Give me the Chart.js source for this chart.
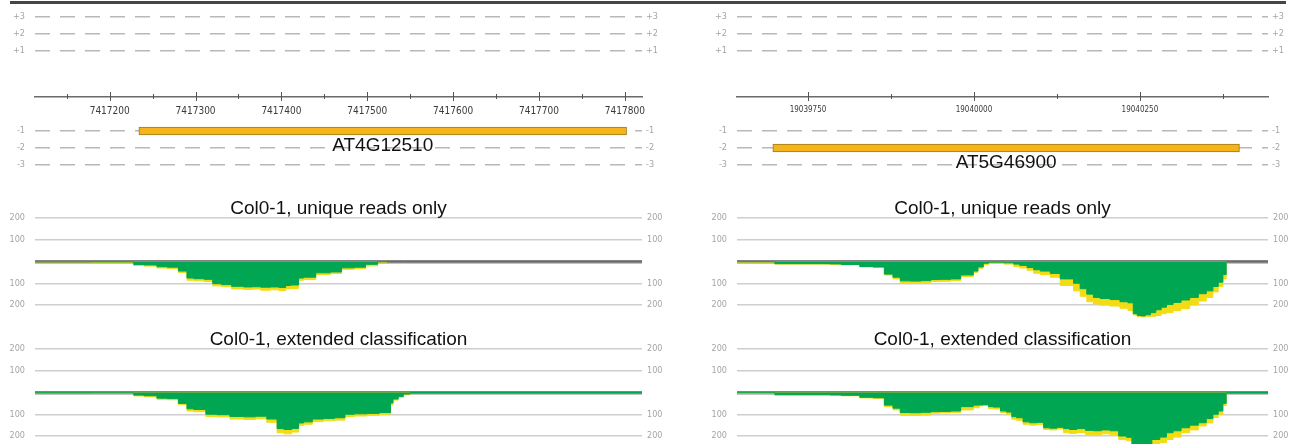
<!DOCTYPE html>
<html>
<head>
<meta charset="utf-8">
<title>Col0-1 coverage, AT4G12510 / AT5G46900</title>
<script src="https://cdn.jsdelivr.net/npm/chart.js@4.4.1/dist/chart.umd.min.js"></script>
<style>
  body { margin: 0; background: #fff; width: 1295px; height: 444px; position: relative; overflow: hidden; }
  canvas { position: absolute; }
  #topRule { position: absolute; left: 10px; top: 1px; width: 1276px; height: 3px; background: #4b4444; }
</style>
</head>
<body>
<div id="topRule"></div>
<canvas id="geneL" width="670" height="190" style="left:0;top:0"></canvas>
<canvas id="covL1" width="670" height="131" style="left:0;top:199px"></canvas>
<canvas id="covL2" width="670" height="114" style="left:0;top:330px"></canvas>
<canvas id="geneR" width="625" height="190" style="left:670px;top:0"></canvas>
<canvas id="covR1" width="625" height="131" style="left:670px;top:199px"></canvas>
<canvas id="covR2" width="625" height="114" style="left:670px;top:330px"></canvas>
<script>
// ********** DATA ***********
const strands = [3, 2, 1, -1, -2, -3];
const strandLabels = ['+3', '+2', '+1', '-1', '-2', '-3'];

const leftRange = [7417113, 7417820];
const rightRange = [19039643, 19040443];
const leftSteps = [100, 50];    // labelled tick, small tick
const rightSteps = [250, 125];

const geneNames = ['AT4G12510', 'AT5G46900'];
const geneStart = [7417234, 19039697];
const geneEnd = [7417802, 19040400];
const geneStrand = [-1, -2];

const panelTitles = ['Col0-1, unique reads only', 'Col0-1, extended classification'];
const covTicks = [200, 100, 0, -100, -200];

// AT4G12510, unique reads only (green = unique, yellow = all)
const posL1 = [7417113, 7417180, 7417228, 7417240, 7417255, 7417267, 7417280, 7417290, 7417298, 7417310,
  7417320, 7417330, 7417342, 7417356, 7417366, 7417376, 7417387, 7417397, 7417405, 7417411,
  7417420, 7417426, 7417440, 7417457, 7417470, 7417485, 7417498, 7417512, 7417523, 7417543, 7417820];
const yellowL1 = [1, 2, 5, 18, 21, 30, 33, 50, 86, 89, 92, 112, 116, 126, 129, 127, 132, 130, 134, 126,
  124, 86, 83, 60, 55, 36, 33, 20, 3, 0, 0];
const greenL1 = [1, 1, 2, 14, 16, 24, 26, 44, 76, 79, 82, 102, 106, 114, 117, 116, 118, 117, 119, 110,
  108, 76, 72, 52, 48, 29, 26, 13, 1, 0, 0];

// AT4G12510, extended classification
const posL2 = [7417113, 7417180, 7417228, 7417240, 7417255, 7417267, 7417280, 7417290, 7417298, 7417312,
  7417325, 7417340, 7417356, 7417370, 7417383, 7417395, 7417403, 7417412, 7417420, 7417426,
  7417436, 7417449, 7417462, 7417474, 7417485, 7417500, 7417514, 7417527, 7417530, 7417536,
  7417542, 7417550, 7417558, 7417820];
const yellowL2 = [1, 2, 4, 16, 20, 31, 33, 56, 85, 88, 110, 112, 122, 124, 121, 137, 185, 190, 182, 151,
  146, 134, 130, 127, 110, 108, 105, 100, 55, 35, 22, 10, 0, 0];
const greenL2 = [1, 1, 2, 12, 15, 26, 28, 50, 75, 78, 100, 102, 110, 112, 109, 122, 166, 170, 165, 140,
  135, 122, 119, 116, 100, 98, 96, 92, 48, 30, 18, 7, 0, 0];

// AT5G46900, unique reads only
const posR1 = [19039643, 19039700, 19039783, 19039800, 19039828, 19039848, 19039865, 19039878, 19039889, 19039904,
  19039920, 19039935, 19039949, 19039965, 19039980, 19039999, 19040006, 19040014, 19040022, 19040029,
  19040045, 19040060, 19040069, 19040080, 19040090, 19040100, 19040115, 19040130, 19040150, 19040160,
  19040170, 19040180, 19040190, 19040205, 19040220, 19040232, 19040240, 19040246, 19040252, 19040258,
  19040266, 19040274, 19040282, 19040290, 19040300, 19040312, 19040325, 19040338, 19040350, 19040360,
  19040368, 19040375, 19040380, 19040386, 19040443];
const yellowR1 = [2, 3, 12, 13, 15, 25, 27, 62, 80, 100, 101, 99, 92, 91, 88, 70, 50, 31, 15, 8,
  8, 12, 23, 30, 40, 54, 60, 72, 110, 135, 160, 185, 195, 200, 205, 215, 225, 246, 254, 255,
  254, 252, 248, 240, 234, 225, 216, 200, 182, 165, 140, 115, 80, 0, 0];
const greenR1 = [1, 1, 10, 11, 14, 23, 25, 58, 72, 89, 90, 88, 83, 82, 80, 62, 44, 25, 8, 3,
  3, 6, 12, 18, 28, 38, 44, 55, 80, 100, 125, 150, 165, 170, 175, 185, 190, 240, 248, 250,
  245, 235, 222, 210, 198, 188, 177, 165, 148, 135, 115, 95, 60, 0, 0];

// AT5G46900, extended classification
const posR2 = [19039643, 19039700, 19039783, 19039800, 19039828, 19039848, 19039865, 19039878, 19039889, 19039904,
  19039920, 19039935, 19039949, 19039965, 19039980, 19039999, 19040008, 19040014, 19040022, 19040029,
  19040040, 19040049, 19040057, 19040064, 19040074, 19040084, 19040095, 19040105, 19040114, 19040125,
  19040135, 19040144, 19040155, 19040168, 19040180, 19040192, 19040205, 19040218, 19040230, 19040238,
  19040245, 19040252, 19040260, 19040268, 19040280, 19040290, 19040300, 19040312, 19040325, 19040338,
  19040350, 19040360, 19040368, 19040375, 19040380, 19040384, 19040443];
const yellowR2 = [2, 3, 12, 13, 15, 25, 27, 65, 80, 105, 106, 104, 95, 94, 92, 80, 70, 62, 60, 74,
  76, 92, 100, 123, 128, 146, 150, 148, 170, 172, 168, 185, 188, 184, 193, 195, 190, 194, 216, 222,
  246, 252, 255, 254, 239, 230, 216, 205, 185, 172, 154, 140, 115, 100, 60, 0, 0];
const greenR2 = [1, 1, 10, 11, 13, 22, 24, 58, 72, 92, 93, 91, 88, 87, 85, 65, 58, 57, 56, 65,
  67, 85, 90, 111, 116, 135, 139, 137, 162, 164, 160, 166, 170, 166, 174, 176, 172, 176, 200, 206,
  238, 248, 252, 250, 216, 205, 185, 176, 162, 150, 139, 120, 100, 85, 50, 0, 0];

// ********** LAYOUT / STYLE ***********
const GREEN = '#00a651';
const YELLOW = '#f3dc15';
const SMALL_FONT = "'Liberation Sans Narrow', 'DejaVu Sans Condensed', 'Liberation Sans', sans-serif";
const BIG_FONT = "'Liberation Sans', Arial, sans-serif";
Chart.defaults.font.family = BIG_FONT;

const ROW_PX = 17, AXIS_PX = 97, GENE_H = 190;   // strand track geometry
const PX_PER_100 = 21.75, TITLE_H = 19;          // coverage track geometry

// strands above the ruler sit further from it than the ones below
function rowValue(s) { return s > 0 ? s + 1.706 : s - 1; }

function fixWidth(w) {
  return function (scale) {
    if (w !== null) scale.width = w;
    scale.paddingTop = 0; scale.paddingBottom = 0;
    scale.paddingLeft = 0; scale.paddingRight = 0;
  };
}

// tick marks crossing the ruler line
function rulerTicks(major) {
  return {
    id: 'rulerTicks',
    afterDraw(chart) {
      const sc = chart.scales.x;
      const y = Math.round(chart.scales.y.getPixelForValue(0));
      const ctx = chart.ctx;
      ctx.save();
      ctx.strokeStyle = '#555';
      ctx.lineWidth = 1;
      sc.ticks.forEach(t => {
        const px = Math.round(sc.getPixelForValue(t.value)) + 0.5;
        const big = t.value % major === 0;
        ctx.beginPath();
        ctx.moveTo(px, y - (big ? 5 : 3));
        ctx.lineTo(px, y + (big ? 4 : 2));
        ctx.stroke();
      });
      ctx.restore();
    }
  };
}

function geneLabel(name) {
  return {
    id: 'geneLabel',
    afterDatasetsDraw(chart) {
      const bar = chart.getDatasetMeta(0).data[0];
      const ctx = chart.ctx;
      ctx.save();
      ctx.font = '19px ' + BIG_FONT;
      ctx.fillStyle = '#111';
      ctx.textAlign = 'center';
      ctx.textBaseline = 'middle';
      ctx.fillText(name, (bar.x + bar.base) / 2, bar.y + 15);
      ctx.restore();
    }
  };
}

function strandTicks(scale) {
  scale.ticks = strands.map(s => ({ value: rowValue(s) }));
}

function geneChart(id, i, range, steps, tickSize, leftW, rightW) {
  const yMax = AXIS_PX / ROW_PX;
  const yMin = -(GENE_H - AXIS_PX) / ROW_PX;
  const labelOpts = { color: '#a5a5a5', font: { size: 9, family: SMALL_FONT } };
  return new Chart(document.getElementById(id), {
    type: 'bar',
    data: {
      datasets: [{
        data: [{ x: [geneStart[i], geneEnd[i]], y: rowValue(geneStrand[i]) }],
        backgroundColor: '#f5b31c',
        borderColor: '#9c7a1d',
        borderWidth: 1,
        borderSkipped: false,
        barThickness: 8
      }]
    },
    options: {
      indexAxis: 'y',
      responsive: false,
      animation: false,
      layout: { padding: 0 },
      plugins: { legend: { display: false }, tooltip: { enabled: false } },
      scales: {
        x: {
          type: 'linear',
          min: range[0], max: range[1],
          position: { y: 0 },
          afterBuildTicks(scale) {
            const t = [];
            for (let v = Math.ceil(range[0] / steps[1]) * steps[1]; v <= range[1]; v += steps[1]) t.push({ value: v });
            scale.ticks = t;
          },
          afterFit: fixWidth(null),
          grid: { drawOnChartArea: false, drawTicks: false },
          border: { display: true, color: '#6b6b6b', width: 1.5 },
          ticks: {
            autoSkip: false, maxRotation: 0, padding: 8,
            color: '#3a3a3a', font: { size: tickSize, family: SMALL_FONT },
            callback: v => (v % steps[0] === 0 ? String(v) : '')
          }
        },
        y: {
          type: 'linear', min: yMin, max: yMax, offset: false,
          afterBuildTicks: strandTicks,
          afterFit: fixWidth(leftW),
          grid: { color: '#b8b8b8', lineWidth: 1.5, drawTicks: false, offset: false },
          border: { display: false, dash: [15, 10] },
          ticks: Object.assign({ padding: 10, callback: (v, idx) => strandLabels[idx] }, labelOpts)
        },
        y2: {
          type: 'linear', position: 'right', min: yMin, max: yMax, offset: false,
          afterBuildTicks: strandTicks,
          afterFit: fixWidth(rightW),
          grid: { display: false, drawTicks: false, offset: false },
          border: { display: false },
          ticks: Object.assign({ padding: 4, callback: (v, idx) => strandLabels[idx] }, labelOpts)
        }
      }
    },
    plugins: [rulerTicks(steps[0]), geneLabel(geneNames[i])]
  });
}

function covChart(id, p, range, pos, green, yellow, leftW, rightW) {
  const canvas = document.getElementById(id);
  const yMin = 200 - (canvas.height - TITLE_H) / PX_PER_100 * 100;
  const pts = vals => pos.map((x, k) => ({ x: x, y: -vals[k] }));
  const labelOpts = { color: '#a5a5a5', font: { size: 9, family: SMALL_FONT } };
  const covTickBuild = scale => { scale.ticks = covTicks.map(v => ({ value: v })); };
  const covLabel = v => (v === 0 ? '' : String(Math.abs(v)));
  return new Chart(canvas, {
    type: 'line',
    data: {
      datasets: [
        { data: pts(green), backgroundColor: GREEN, borderColor: GREEN, fill: 'origin', order: 1 },
        { data: pts(yellow), backgroundColor: YELLOW, borderColor: YELLOW, fill: 'origin', order: 2 }
      ]
    },
    options: {
      responsive: false,
      animation: false,
      layout: { padding: 0 },
      elements: { point: { radius: 0 }, line: { borderWidth: 1, stepped: 'after', tension: 0 } },
      plugins: {
        legend: { display: false },
        tooltip: { enabled: false },
        title: {
          display: true, text: panelTitles[p], fullSize: false,
          color: '#111', padding: 0,
          font: { size: 19, weight: 'normal', lineHeight: 1, family: BIG_FONT }
        }
      },
      scales: {
        x: { type: 'linear', min: range[0], max: range[1], display: false },
        y: {
          min: yMin, max: 200, z: 1,
          afterBuildTicks: covTickBuild,
          afterFit: fixWidth(leftW),
          grid: {
            drawTicks: false,
            color: c => (c.tick && c.tick.value === 0 ? '#858585' : 'rgba(190,190,190,0.75)'),
            lineWidth: c => (c.tick && c.tick.value === 0 ? 3.5 : 1.5)
          },
          border: { display: false },
          ticks: Object.assign({ padding: 10, callback: covLabel }, labelOpts)
        },
        y2: {
          position: 'right', min: yMin, max: 200,
          afterBuildTicks: covTickBuild,
          afterFit: fixWidth(rightW),
          grid: { display: false, drawTicks: false },
          border: { display: false },
          ticks: Object.assign({ padding: 5, callback: covLabel }, labelOpts)
        }
      }
    }
  });
}

// ********** BUILD ***********
geneChart('geneL', 0, leftRange, leftSteps, 10, 35, 28);
geneChart('geneR', 1, rightRange, rightSteps, 8, 67, 27);
covChart('covL1', 0, leftRange, posL1, greenL1, yellowL1, 35, 28);
covChart('covL2', 1, leftRange, posL2, greenL2, yellowL2, 35, 28);
covChart('covR1', 0, rightRange, posR1, greenR1, yellowR1, 67, 27);
covChart('covR2', 1, rightRange, posR2, greenR2, yellowR2, 67, 27);
</script>
</body>
</html>
